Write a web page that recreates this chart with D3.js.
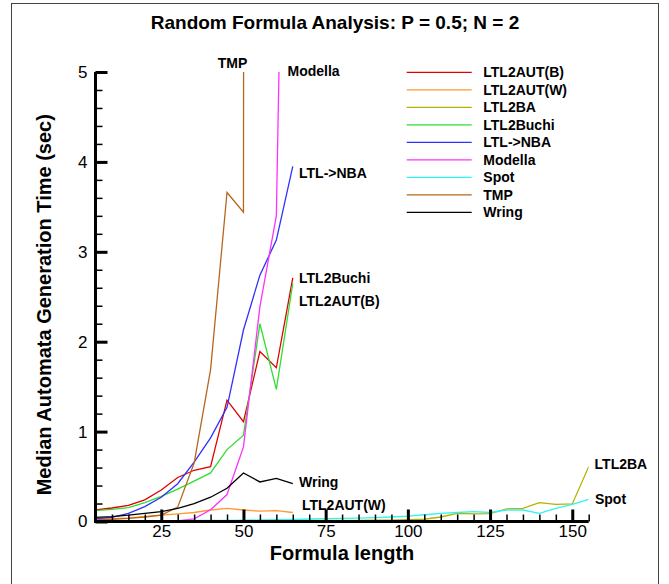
<!DOCTYPE html>
<html><head><meta charset="utf-8">
<script src="https://cdn.jsdelivr.net/npm/d3@7"></script>
<style>
body{margin:0;background:#fff;}
text{font-family:"Liberation Sans",Arial,Helvetica,sans-serif;}
</style></head>
<body><svg id="c" width="669" height="584"></svg>
<script>
const xs1 = [5,10,15,20,25,30,35,40,45,50,55,60,65];
const xs2 = [5,10,15,20,25,30,35,40,45,50,55,60,65,70,75,80,85,90,95,100,105,110,115,120,125,130,135,140,145,150,155];
const xsTMP = [5,10,15,20,25,30,35,40,45,50,55];

const ltl2autB = [0.13,0.15,0.18,0.24,0.35,0.49,0.57,0.61,1.35,1.11,1.89,1.71,2.71];
const ltl2autW = [0.02,0.03,0.04,0.055,0.07,0.085,0.10,0.128,0.146,0.128,0.115,0.12,0.10];
const ltl2ba = [0.005,0.005,0.006,0.006,0.007,0.007,0.008,0.008,0.009,0.009,0.01,0.01,0.01,0.011,0.012,0.012,0.013,0.014,0.015,0.02,0.025,0.05,0.09,0.085,0.088,0.14,0.146,0.21,0.19,0.195,0.61];
const ltl2buchi = [0.12,0.135,0.155,0.21,0.28,0.36,0.45,0.54,0.80,0.96,2.20,1.47,2.65];
const ltlnba = [0.03,0.046,0.09,0.165,0.27,0.42,0.66,0.93,1.27,2.13,2.74,3.13,3.95];
const modella = [0.005,0.005,0.005,0.005,0.005,0.006,0.03,0.13,0.30,0.83,2.39,3.40,13.4];
const spot = [0.008,0.008,0.009,0.009,0.01,0.01,0.011,0.011,0.012,0.015,0.017,0.02,0.022,0.028,0.032,0.035,0.038,0.043,0.05,0.06,0.075,0.09,0.10,0.11,0.10,0.128,0.128,0.09,0.146,0.19,0.247];
const tmp = [0.02,0.025,0.035,0.05,0.07,0.16,0.65,1.69,3.66,3.44,200];
const wring = [0.045,0.055,0.07,0.09,0.11,0.145,0.2,0.27,0.37,0.54,0.44,0.48,0.42];

const seriesNames = ["LTL2AUT(B)","LTL2AUT(W)","LTL2BA","LTL2Buchi","LTL->NBA","Modella","Spot","TMP","Wring"];
const seriesColors = ["#e00000","#ff9a30","#b8b000","#30dd30","#3030ff","#ff30ff","#30f4f4","#b8661e","#000000"];
const seriesX = [xs1,xs1,xs2,xs1,xs1,xs1,xs2,xsTMP,xs1];
const seriesY = [ltl2autB,ltl2autW,ltl2ba,ltl2buchi,ltlnba,modella,spot,tmp,wring];

// end labels: name, x, y in data space
const labelNames = ["TMP","Modella","LTL->NBA","LTL2Buchi","LTL2AUT(B)","Wring","LTL2AUT(W)","LTL2BA","Spot"];
const labelX = [42.2,63.4,66.9,66.9,66.9,66.9,67.8,156.8,156.9];
const labelY = [5.04,4.955,3.82,2.653,2.397,0.384,0.128,0.584,0.195];

const xMajor = [25,50,75,100,125,150];
const yMajor = [0,1,2,3,4,5];

const svg = d3.select("#c");
const L = 95.5, R = 588.7, T = 72, B = 521.5;
const x = d3.scaleLinear().domain([5,155]).range([L,R]);
const y = d3.scaleLinear().domain([0,5]).range([B,T]);

// frame
svg.append("rect").attr("x",11.5).attr("y",3.5).attr("width",647).attr("height",620)
  .attr("fill","none").attr("stroke","#444").attr("stroke-width",1);

// title
svg.append("text").attr("x",335).attr("y",29).attr("text-anchor","middle")
  .attr("font-size",19).attr("font-weight","bold").text("Random Formula Analysis: P = 0.5; N = 2");

svg.append("defs").append("clipPath").attr("id","clip").append("rect")
  .attr("x",L).attr("y",T).attr("width",R-L).attr("height",B-T+1);

const line = d3.line().x(d=>x(d[0])).y(d=>y(d[1]));
const g = svg.append("g").attr("clip-path","url(#clip)");
seriesNames.forEach((n,i)=>{
  const pts = seriesX[i].map((v,j)=>[v,seriesY[i][j]]);
  g.append("path").datum(pts).attr("d",line).attr("fill","none")
    .attr("stroke",seriesColors[i]).attr("stroke-width",1.3).attr("stroke-linejoin","miter");
});

// axes
const minorX = d3.range(5,156,5);
const minorY = d3.range(0,5.01,0.2);
const xMinor = svg.append("g").attr("transform",`translate(0,${B})`)
  .call(d3.axisBottom(x).tickValues(minorX).tickSize(-7).tickFormat(""));
xMinor.select(".domain").remove();
xMinor.selectAll("line").attr("stroke","#000").attr("stroke-width",1.5);
const xAx = svg.append("g").attr("transform",`translate(0,${B})`)
  .call(d3.axisBottom(x).tickValues(xMajor).tickSize(-12).tickPadding(3));
xAx.select(".domain").remove();
xAx.selectAll("line").attr("stroke","#000").attr("stroke-width",3);
xAx.selectAll("text").attr("font-size",17).attr("font-family","Liberation Sans, Arial, sans-serif").attr("fill","#000");

const yMinor = svg.append("g").attr("transform",`translate(${L},0)`)
  .call(d3.axisLeft(y).tickValues(minorY).tickSize(-7).tickFormat(""));
yMinor.select(".domain").remove();
yMinor.selectAll("line").attr("stroke","#000").attr("stroke-width",1.5);
const yAx = svg.append("g").attr("transform",`translate(${L},0)`)
  .call(d3.axisLeft(y).tickValues(yMajor).tickSize(-12).tickPadding(8).tickFormat(d3.format("d")));
yAx.select(".domain").remove();
yAx.selectAll("line").attr("stroke","#000").attr("stroke-width",3);
yAx.selectAll("text").attr("font-size",17).attr("font-family","Liberation Sans, Arial, sans-serif").attr("fill","#000");

// spines
svg.append("line").attr("x1",L-1.5).attr("x2",R).attr("y1",B).attr("y2",B).attr("stroke","#000").attr("stroke-width",3);
svg.append("line").attr("x1",L).attr("x2",L).attr("y1",T).attr("y2",B).attr("stroke","#000").attr("stroke-width",3);

// axis titles
svg.append("text").attr("x",(L+R)/2).attr("y",560).attr("text-anchor","middle")
  .attr("font-size",20).attr("font-weight","bold").text("Formula length");
svg.append("text").attr("transform",`translate(51,${(T+B)/2+8}) rotate(-90)`).attr("text-anchor","middle")
  .attr("font-size",20).attr("font-weight","bold").text("Median Automata Generation Time (sec)");

// end labels
labelNames.forEach((n,i)=>{
  svg.append("text").attr("x",x(labelX[i])).attr("y",y(labelY[i]))
    .attr("font-size",14).attr("font-weight","bold").text(n);
});

// legend
const lg = svg.append("g");
seriesNames.forEach((n,i)=>{
  const yy = 72.3 + i*17.5;
  lg.append("line").attr("x1",406.7).attr("x2",471.7).attr("y1",yy).attr("y2",yy)
    .attr("stroke",seriesColors[i]).attr("stroke-width",1.3);
  lg.append("text").attr("x",483.3).attr("y",yy+5).attr("font-size",14).attr("font-weight","bold").text(n);
});
</script></body></html>
